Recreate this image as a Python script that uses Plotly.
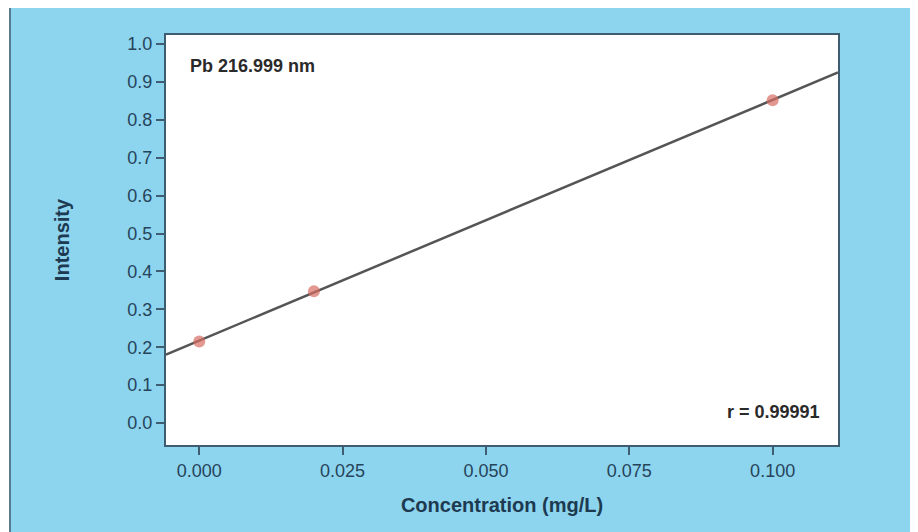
import numpy as np
import plotly.graph_objects as go

# Data
concentration = [0.0, 0.02, 0.1]
intensity = [0.215, 0.348, 0.852]
x_tick_vals = [0.0, 0.025, 0.05, 0.075, 0.1]
x_tick_text = ["0.000", "0.025", "0.050", "0.075", "0.100"]
y_tick_vals = [0.0, 0.1, 0.2, 0.3, 0.4, 0.5, 0.6, 0.7, 0.8, 0.9, 1.0]
y_tick_text = ["0.0", "0.1", "0.2", "0.3", "0.4", "0.5", "0.6", "0.7", "0.8", "0.9", "1.0"]
label_line = "Pb 216.999 nm"
label_r = "r = 0.99991"

x_range = [-0.0058, 0.1114]
y_range = [-0.058, 1.024]

slope, intercept = np.polyfit(concentration, intensity, 1)
fit_x = list(x_range)
fit_y = [slope * v + intercept for v in fit_x]

OFF = 8  # page offset of the figure inside the browser window
W, H = 918, 532
ml, mr, mt, mb = 166 - OFF, 88, 35 - OFF, 95
pw, ph = W - ml - mr, H - mt - mb

def px_x(p):
    return (p - OFF - ml) / pw

def px_y(p):
    return (H - mb - (p - OFF)) / ph

FONT = "Liberation Sans, Arial, Helvetica, sans-serif"
BG = "#8dd4ee"
AX = "#3f5d70"
TICKC = "#26445a"

fig = go.Figure()
fig.add_trace(go.Scatter(x=fit_x, y=fit_y, mode="lines",
                         line=dict(color="#555555", width=2.5),
                         hoverinfo="skip", showlegend=False, cliponaxis=False))
fig.add_trace(go.Scatter(x=concentration, y=intensity, mode="markers",
                         marker=dict(color="rgba(215,110,100,0.7)", size=12,
                                     line=dict(width=0)),
                         showlegend=False))

fig.update_layout(
    width=W, height=H,
    margin=dict(l=ml, r=mr, t=mt, b=mb),
    paper_bgcolor="white",
    plot_bgcolor="white",
    font=dict(family=FONT),
    xaxis=dict(range=x_range, tickvals=x_tick_vals, ticktext=x_tick_text,
               showgrid=False, zeroline=False, showline=True, mirror=True,
               linecolor=AX, linewidth=2, ticks="outside", ticklen=8,
               tickcolor=AX, tickwidth=1.5,
               tickfont=dict(size=18, color=TICKC, family=FONT),
               title=dict(text="<b>Concentration (mg/L)</b>", standoff=18,
                          font=dict(size=20, color="#1d3a50", family=FONT))),
    yaxis=dict(range=y_range, tickvals=y_tick_vals, ticktext=y_tick_text,
               showgrid=False, zeroline=False, showline=True, mirror=True,
               linecolor=AX, linewidth=2, ticks="outside", ticklen=8,
               tickcolor=AX, tickwidth=1.5,
               tickfont=dict(size=18, color=TICKC, family=FONT),
               title=dict(text="<b>Intensity</b>", standoff=52,
                          font=dict(size=20, color="#1d3a50", family=FONT))),
    shapes=[
        dict(type="rect", xref="paper", yref="paper",
             x0=px_x(10), x1=px_x(W + 30), y0=px_y(H + 30), y1=px_y(5),
             fillcolor=BG, line=dict(color="#5a7a90", width=2), layer="below"),
        dict(type="rect", xref="paper", yref="paper",
             x0=0, x1=1, y0=0, y1=1,
             fillcolor="white", line=dict(width=0), layer="below"),
    ],
    annotations=[
        dict(text="<b>" + label_line + "</b>", xref="paper", yref="paper",
             x=px_x(188), y=px_y(66), xanchor="left", yanchor="middle",
             showarrow=False, font=dict(size=18, color="#2a2a2a", family=FONT)),
        dict(text="<b>" + label_r + "</b>", xref="paper", yref="paper",
             x=px_x(822), y=px_y(412), xanchor="right", yanchor="middle",
             showarrow=False, font=dict(size=18, color="#2a2a2a", family=FONT)),
    ],
)

fig.write_html("out.html")
